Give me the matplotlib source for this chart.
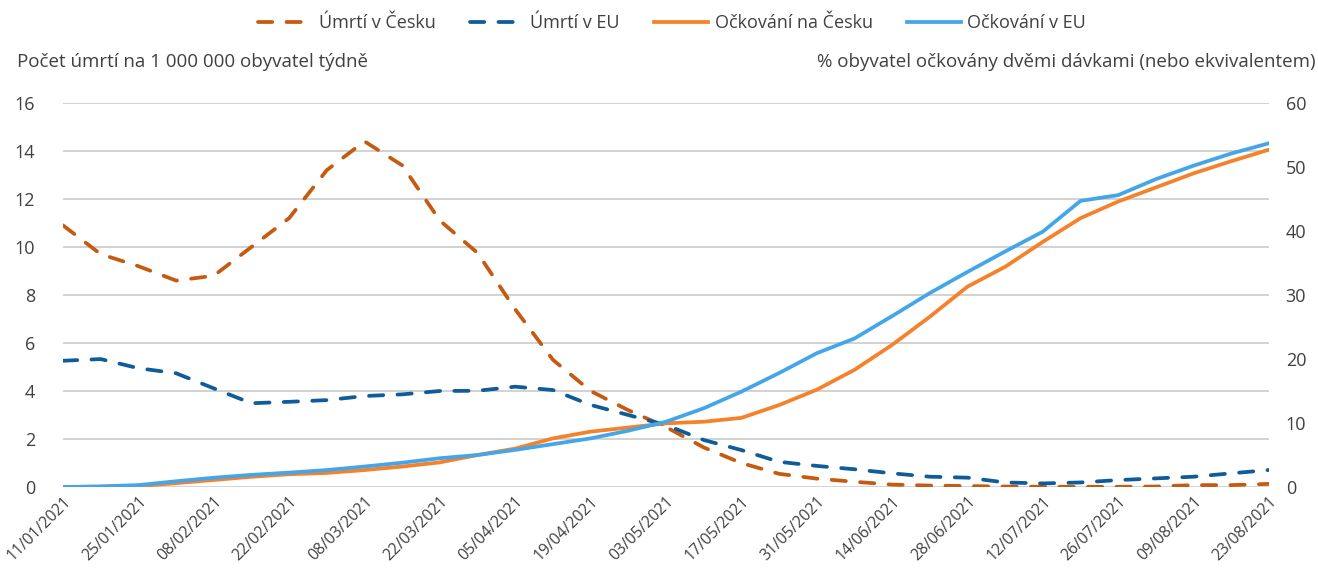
import matplotlib.pyplot as plt

plt.rcParams['font.family'] = ['Open Sans', 'DejaVu Sans']

# tydenni data 11/01/2021 - 23/08/2021
tydny = ["11/01/2021", "18/01/2021", "25/01/2021", "01/02/2021", "08/02/2021", "15/02/2021",
         "22/02/2021", "01/03/2021", "08/03/2021", "15/03/2021", "22/03/2021", "29/03/2021",
         "05/04/2021", "12/04/2021", "19/04/2021", "26/04/2021", "03/05/2021", "10/05/2021",
         "17/05/2021", "24/05/2021", "31/05/2021", "07/06/2021", "14/06/2021", "21/06/2021",
         "28/06/2021", "05/07/2021", "12/07/2021", "19/07/2021", "26/07/2021", "02/08/2021",
         "09/08/2021", "16/08/2021", "23/08/2021"]

umrti_cz = [10.9, 9.7, 9.2, 8.6, 8.8, 10.0, 11.2, 13.2, 14.4, 13.4, 11.1, 9.75, 7.4, 5.3,
            4.0, 3.2, 2.5, 1.65, 1.0, 0.55, 0.35, 0.22, 0.1, 0.06, 0.04, 0.02, 0.01, 0.01,
            0.01, 0.02, 0.08, 0.08, 0.13]
umrti_eu = [5.26, 5.33, 4.95, 4.74, 4.11, 3.49, 3.55, 3.62, 3.79, 3.86, 4.0, 4.01, 4.18, 4.04,
            3.42, 3.0, 2.58, 1.96, 1.54, 1.05, 0.88, 0.74, 0.57, 0.43, 0.39, 0.19, 0.15, 0.19,
            0.29, 0.36, 0.43, 0.57, 0.71]
ockovani_cz = [0.0, 0.05, 0.15, 0.6, 1.1, 1.6, 2.0, 2.2, 2.65, 3.2, 3.85, 5.0, 6.0, 7.6, 8.65,
               9.3, 9.95, 10.2, 10.8, 12.8, 15.2, 18.3, 22.2, 26.6, 31.3, 34.4, 38.3, 42.0,
               44.6, 46.8, 49.0, 50.9, 52.7]
ockovani_eu = [0.0, 0.1, 0.3, 0.9, 1.45, 1.9, 2.25, 2.65, 3.2, 3.8, 4.5, 5.0, 5.8, 6.7, 7.6,
               8.8, 10.2, 12.3, 14.9, 17.8, 20.9, 23.2, 26.7, 30.3, 33.6, 36.8, 39.9, 44.7,
               45.6, 48.1, 50.2, 52.1, 53.7]

barva_text = "#404040"
vel = 13

fig = plt.figure(figsize=(13.18, 5.75), dpi=100)
ax = fig.add_axes([0.0478, 0.153, 0.915, 0.668])
ax2 = ax.twinx()

x = list(range(len(tydny)))

l1, = ax.plot(x, umrti_cz, color="#C55A11", lw=2.7, dashes=(3.8, 3.8), dash_capstyle="round",
              label="Úmrtí v Česku")
l2, = ax.plot(x, umrti_eu, color="#0E5C99", lw=2.7, dashes=(3.8, 3.8), dash_capstyle="round",
              label="Úmrtí v EU")
l3, = ax2.plot(x, ockovani_cz, color="#F5822A", lw=2.7, label="Očkování na Česku")
l4, = ax2.plot(x, ockovani_eu, color="#44A6E8", lw=2.7, label="Očkování v EU")

ax.set_xlim(0, len(tydny) - 1)
ax.set_ylim(0, 16)
ax.set_yticks(range(0, 17, 2))
ax2.set_ylim(0, 60)
ax2.set_yticks(range(0, 61, 10))

ax.grid(axis="y", color="#CFCFCF", lw=1.3)
ax.set_axisbelow(True)
for a in (ax, ax2):
    for s in a.spines.values():
        s.set_visible(False)
    a.tick_params(length=0, labelsize=vel, colors=barva_text)
ax.tick_params(axis="y", pad=20)
ax2.tick_params(axis="y", pad=12)

ax.set_xticks(x[::2])
ax.set_xticklabels(tydny[::2], rotation=45, ha="right", rotation_mode="anchor", fontsize=11.3)
ax.tick_params(axis="x", pad=5)

fig.text(0.013, 0.892, "Počet úmrtí na 1 000 000 obyvatel týdně", fontsize=13.5,
         color=barva_text, ha="left", va="center")
fig.text(0.998, 0.892, "% obyvatel očkovány dvěmi dávkami (nebo ekvivalentem)", fontsize=13.5,
         color=barva_text, ha="right", va="center")

fig.legend(handles=[l1, l2, l3, l4], loc="center", bbox_to_anchor=(0.51, 0.96), ncol=4,
           frameon=False, fontsize=vel, labelcolor=barva_text, handlelength=3.0,
           handletextpad=0.35, columnspacing=1.9)

fig.savefig("out.png", dpi=100)
